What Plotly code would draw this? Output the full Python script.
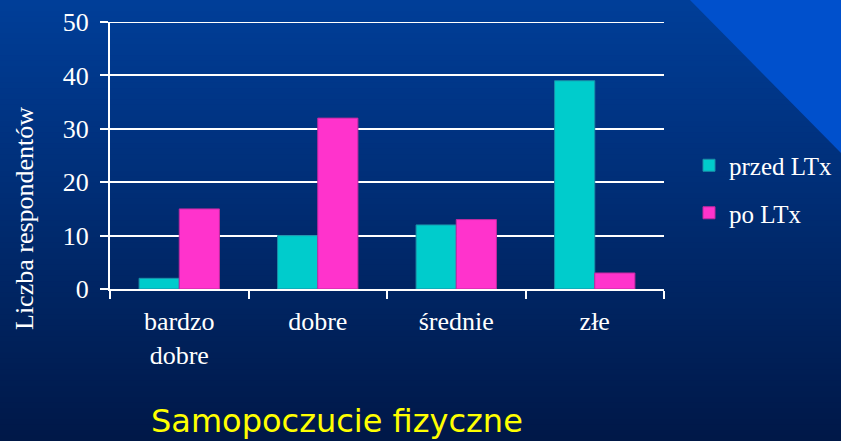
import plotly.graph_objects as go

categories = ["bardzo<br>dobre", "dobre", "średnie", "złe"]
przed_ltx = [2, 10, 12, 39]
po_ltx = [15, 32, 13, 3]
y_ticks = [0, 10, 20, 30, 40, 50]

W, H = 841, 441
serif = "Liberation Serif, Times New Roman, serif"

# plot-area margins in pixels
pl, pr, pt, pb = 110, 177, 22, 152
pw, ph = W - pl - pr, H - pt - pb


def px(x):
    return (x - pl) / pw


def py(y):
    return 1 - (y - pt) / ph


fig = go.Figure()
fig.add_trace(go.Bar(x=categories, y=przed_ltx, name="przed LTx", legendgroup="a",
                     marker=dict(color="#00CCCC", line=dict(color="#1A8FA8", width=1))))
fig.add_trace(go.Bar(x=categories, y=po_ltx, name="po LTx", legendgroup="b",
                     marker=dict(color="#FF33CC", line=dict(color="#C02AA0", width=1))))

# vertical background gradient built from thin strips across the whole page
shapes = []
n = 80
top, bot = (0, 62, 152), (0, 24, 72)
for i in range(n):
    t = i / (n - 1)
    c = tuple(round(top[k] + (bot[k] - top[k]) * t) for k in range(3))
    y0_px = i / n * H
    y1_px = (i + 1) / n * H + 1
    shapes.append(dict(type="rect", xref="paper", yref="paper", layer="below",
                       x0=px(-5), x1=px(W + 5), y0=py(y1_px), y1=py(y0_px),
                       line=dict(width=0), fillcolor="rgb(%d,%d,%d)" % c))
# lighter corner triangle
shapes.append(dict(type="path", xref="paper", yref="paper", layer="below",
                   path="M %f %f L %f %f L %f %f Z" % (px(688), py(-2), px(843), py(-2), px(843), py(155)),
                   line=dict(width=0), fillcolor="#0050CC"))
# top gridline at 50
shapes.append(dict(type="line", xref="paper", yref="y", layer="below",
                   x0=0, x1=1, y0=50, y1=50, line=dict(color="white", width=2)))

fig.update_layout(
    width=W, height=H,
    margin=dict(l=pl, r=pr, t=pt, b=pb, autoexpand=False),
    paper_bgcolor="#002A75", plot_bgcolor="rgba(0,0,0,0)",
    barmode="group", bargap=0.42, bargroupgap=0,
    shapes=shapes,
    showlegend=True,
    legend=dict(xref="container", yref="container", x=689 / W, xanchor="left",
                y=1 - 189 / H, yanchor="middle", bgcolor="rgba(0,0,0,0)",
                font=dict(family=serif, size=25, color="white"),
                itemwidth=30, tracegroupgap=12),
    font=dict(family=serif, color="white"),
    xaxis=dict(tickson="boundaries", ticks="outside", ticklen=8, tickwidth=2,
               tickcolor="white", showline=True, linecolor="white", linewidth=2,
               showgrid=False, ticklabelstandoff=8, automargin=False,
               tickfont=dict(family=serif, size=26, color="white")),
    yaxis=dict(range=[0, 50], tickvals=y_ticks, ticks="outside", ticklen=8,
               tickwidth=2, tickcolor="white", showline=True, linecolor="white",
               linewidth=2, showgrid=True, gridcolor="white", gridwidth=2,
               zeroline=False, ticklabelstandoff=6, automargin=False,
               tickfont=dict(family=serif, size=26, color="white")),
)
# y-axis caption, placed lower than the plot-area centre
fig.add_annotation(text="Liczba respondentów", xref="paper", yref="paper",
                   x=px(24), y=py(218), xanchor="center", yanchor="middle",
                   textangle=-90, showarrow=False,
                   font=dict(family=serif, size=26, color="white"))
fig.add_annotation(text="Samopoczucie fizyczne", xref="paper", yref="paper",
                   x=px(337), y=py(421), xanchor="center", yanchor="middle",
                   showarrow=False,
                   font=dict(family="DejaVu Sans, sans-serif", size=32, color="#FFFF00"))
fig.write_html("out.html")
